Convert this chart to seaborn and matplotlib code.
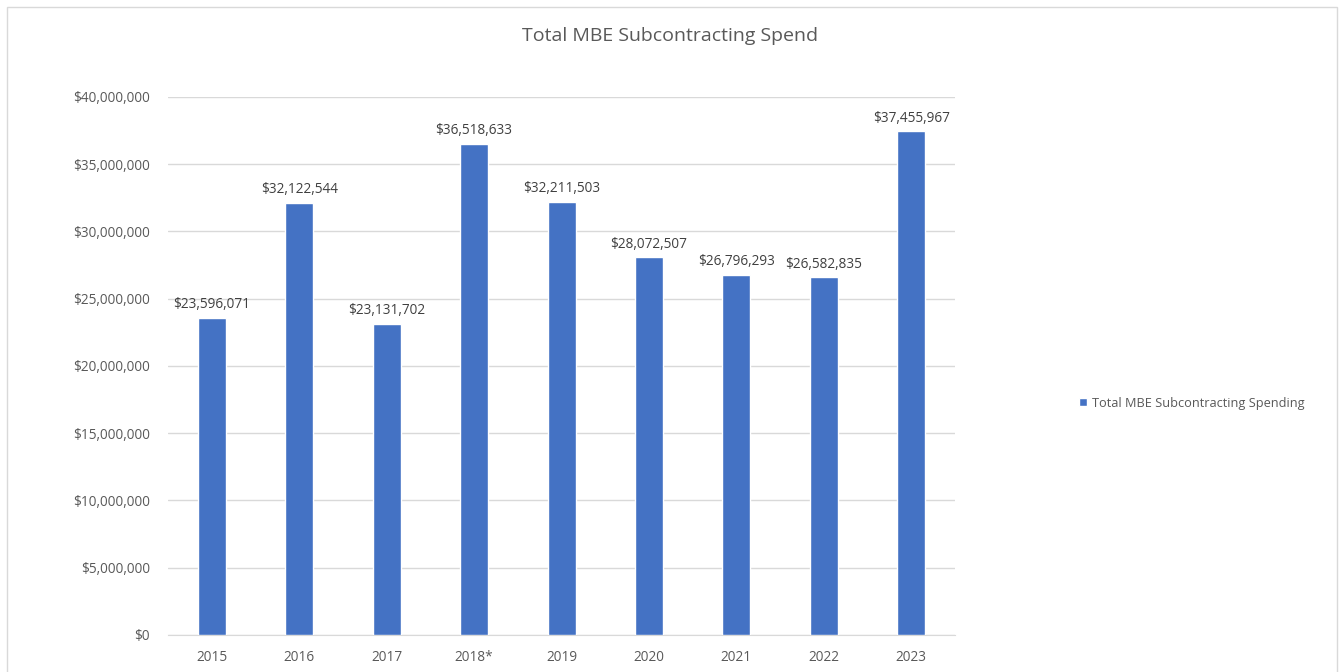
import numpy as np
import pandas as pd
import matplotlib
matplotlib.use('Agg')
import matplotlib.pyplot as plt
import seaborn as sns
from matplotlib.patches import Rectangle

years = ['2015', '2016', '2017', '2018*', '2019', '2020', '2021', '2022', '2023']
spend = [23596071, 32122544, 23131702, 36518633, 32211503, 28072507, 26796293, 26582835, 37455967]
series_name = 'Total MBE Subcontracting Spending'

df = pd.DataFrame({'year': years, 'spend': spend})

sns.set_style('white')
plt.rcParams['font.family'] = ['Open Sans', 'DejaVu Sans']

text_col = '#595959'
bar_col = '#4472C4'

fig = plt.figure(figsize=(13.4, 6.72), dpi=100)
ax = fig.add_axes([0.1254, 0.0551, 0.5873, 0.8006])

sns.barplot(data=df, x='year', y='spend', color=bar_col, saturation=1, width=0.32,
            ax=ax, label=series_name, zorder=3)

ax.set_ylim(0, 40000000)
ax.set_yticks(np.arange(0, 40000001, 5000000))
ax.set_yticklabels(['${:,.0f}'.format(v) for v in ax.get_yticks()])
ax.grid(axis='y', color='#d9d9d9', linewidth=1, zorder=0)
ax.set_axisbelow(True)
for s in ['top', 'right', 'left']:
    ax.spines[s].set_visible(False)
ax.spines['bottom'].set_color('#d9d9d9')
ax.tick_params(axis='both', colors=text_col, labelsize=9.8, length=0)
ax.tick_params(axis='y', pad=13)
ax.tick_params(axis='x', pad=11)
ax.set_xlabel('')
ax.set_ylabel('')

for c in ax.containers:
    ax.bar_label(c, labels=['${:,.0f}'.format(v) for v in spend], padding=4,
                 color='#404040', fontsize=9.8)

fig.text(0.5, 0.946, 'Total MBE Subcontracting Spend', ha='center', va='center',
         fontsize=14, color=text_col)

leg = ax.legend(loc='center left', bbox_to_anchor=(0.797, 0.4), bbox_transform=fig.transFigure,
                frameon=False, fontsize=9.2, handlelength=0.6, handleheight=0.6,
                handletextpad=0.4, labelcolor=text_col)

fig.patches.append(Rectangle((7 / 1340, -0.01), 1330 / 1340, 1 - 7 / 672 + 0.01,
                             transform=fig.transFigure, fill=False,
                             edgecolor='#d9d9d9', linewidth=1))

fig.savefig('out.png', dpi=100)
